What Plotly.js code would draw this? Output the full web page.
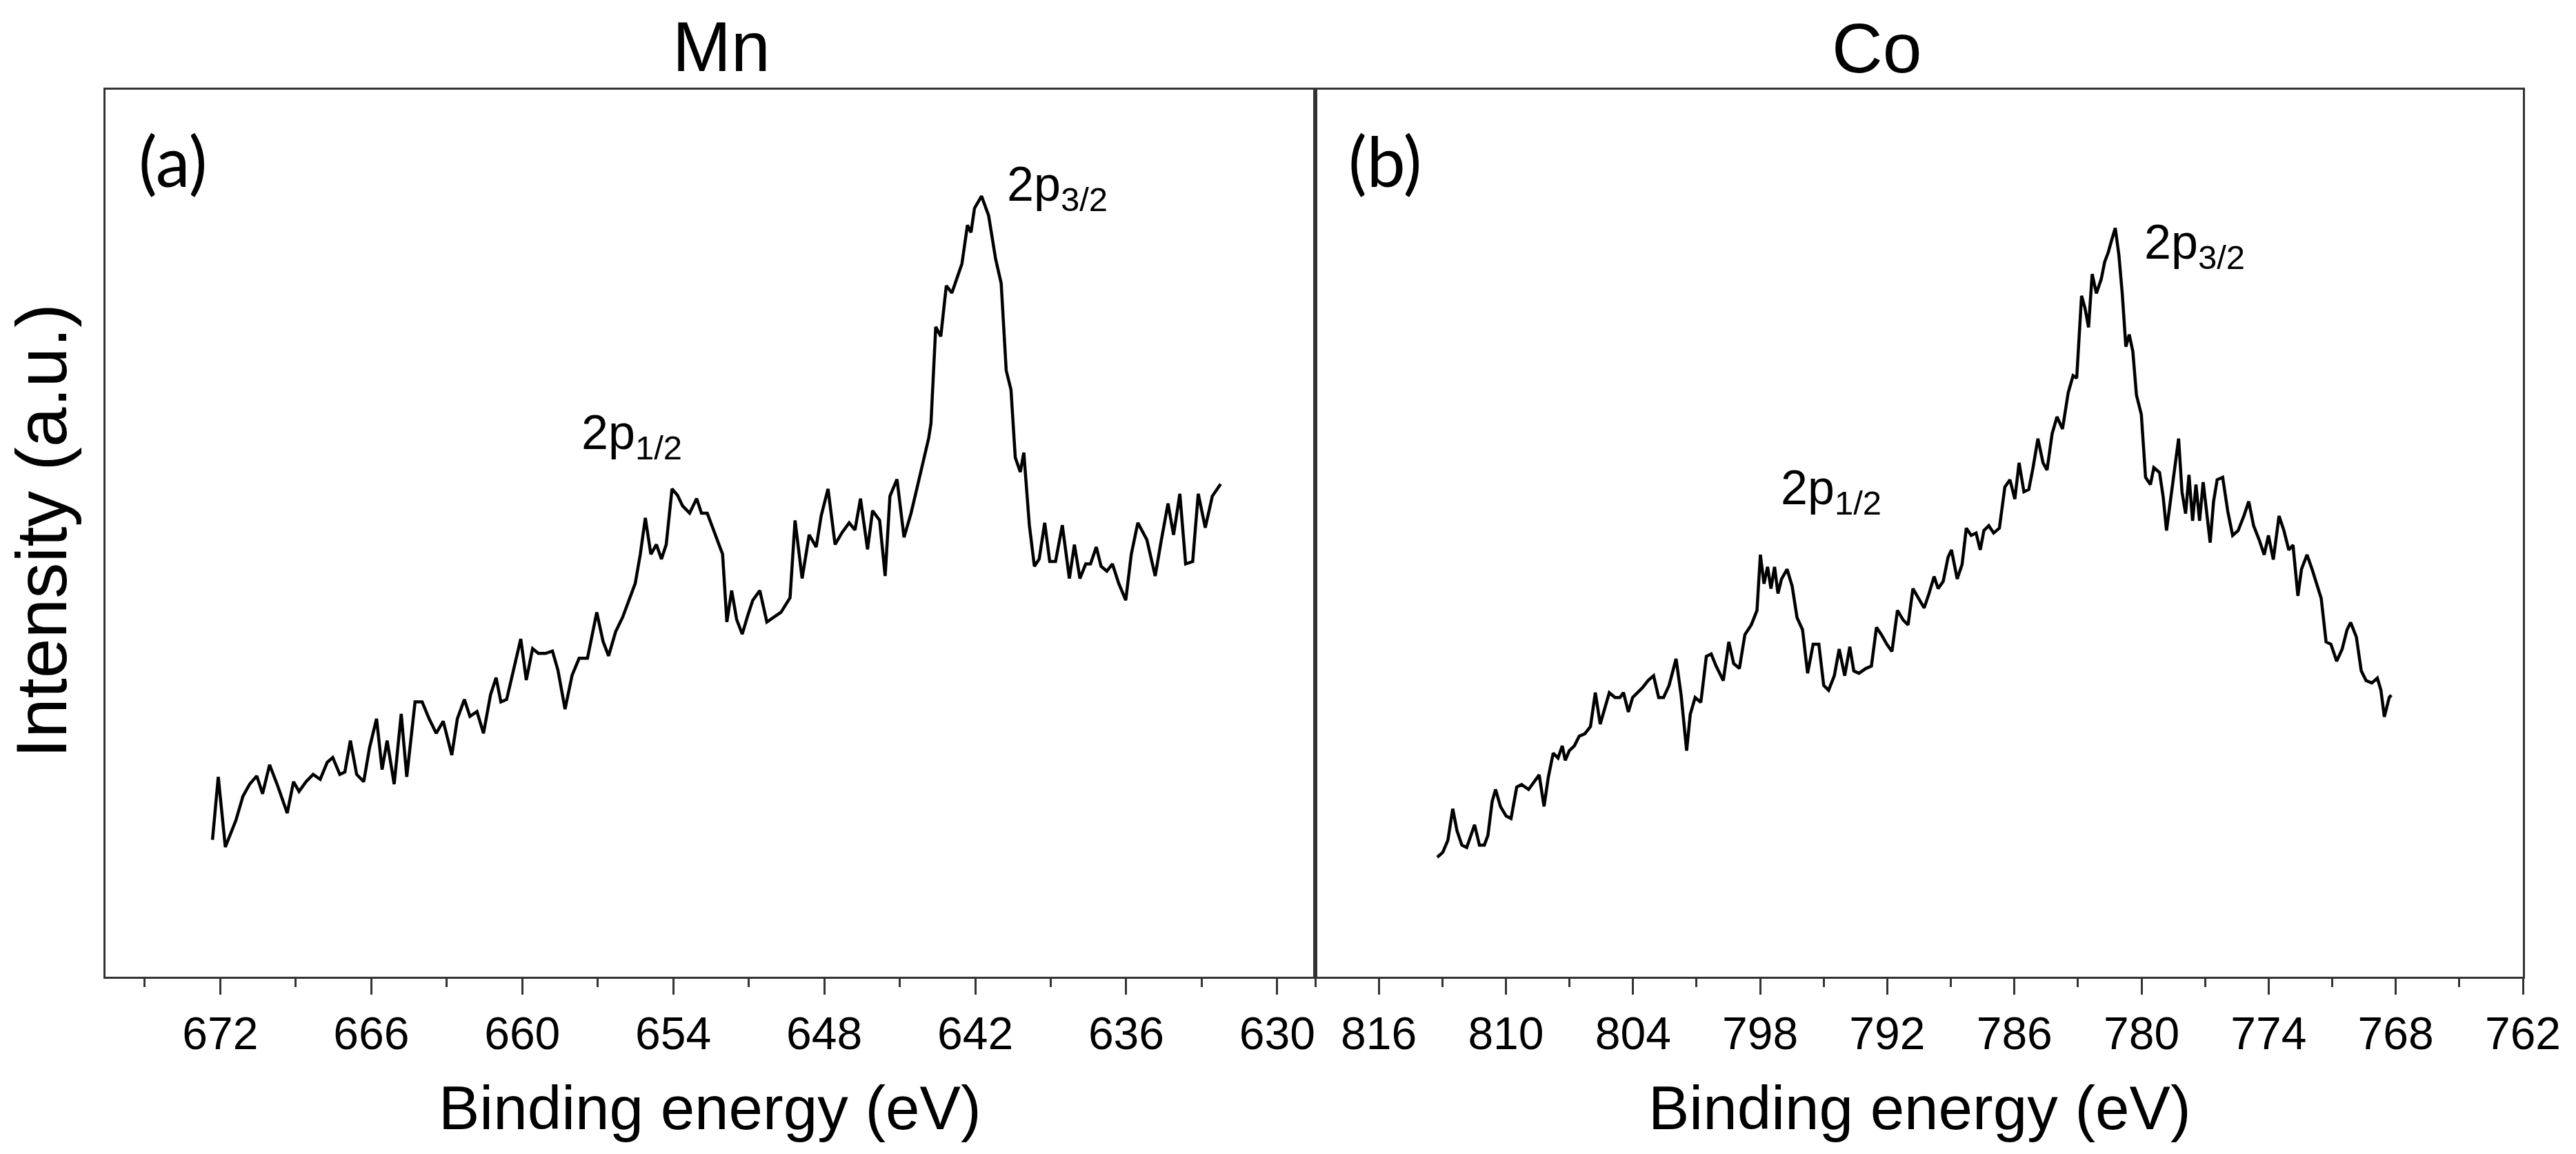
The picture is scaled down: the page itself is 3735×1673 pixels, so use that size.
<!DOCTYPE html>
<html>
<head>
<meta charset="utf-8">
<script src="https://cdn.plot.ly/plotly-3.0.1.min.js"></script>
<style>html,body{margin:0;padding:0;background:#fff;}#chart{width:3735px;height:1673px;}</style>
</head>
<body>
<div id="chart"></div>
<script>
// Mn 2p spectrum (binding energy in eV, intensity in a.u.)
const mnE = [672.31,672.08,671.80,671.38,671.10,670.83,670.55,670.32,670.04,669.71,
669.34,669.09,668.87,668.59,668.31,668.03,667.75,667.53,667.25,667.05,
666.83,666.58,666.30,666.07,665.79,665.57,665.37,665.09,664.81,664.59,
664.26,663.98,663.70,663.42,663.14,662.80,662.58,662.30,662.08,661.80,
661.54,661.26,661.04,660.85,660.62,660.34,660.06,659.84,659.59,659.36,
659.08,658.80,658.58,658.30,658.02,657.74,657.41,657.04,656.79,656.57,
656.29,656.01,655.51,655.31,655.11,654.89,654.67,654.47,654.28,654.05,
653.83,653.63,653.35,653.07,652.88,652.65,652.43,652.23,652.04,651.87,
651.68,651.48,651.26,651.03,650.84,650.56,650.28,650.00,649.72,649.36,
649.16,648.88,648.60,648.32,648.12,647.85,647.57,647.29,647.01,646.78,
646.56,646.28,646.08,645.80,645.58,645.39,645.11,644.83,644.55,644.21,
643.85,643.76,643.57,643.37,643.15,642.93,642.73,642.53,642.31,642.17,
642.03,641.75,641.47,641.19,640.97,640.77,640.58,640.41,640.21,640.07,
639.85,639.65,639.46,639.24,639.04,638.81,638.54,638.26,638.06,637.84,
637.61,637.42,637.19,637.00,636.77,636.55,636.30,636.02,635.80,635.54,
635.18,634.85,634.62,634.34,634.12,633.87,633.64,633.36,633.14,632.86,
632.58,632.25];
const mnI = [283,413,268,323,373,398,415,378,438,393,
338,403,383,403,418,408,443,453,418,423,
488,418,403,473,533,428,488,398,543,413,
568,568,533,503,528,458,533,573,538,548,
503,583,618,568,573,638,698,613,678,668,
668,673,633,553,623,658,658,753,693,663,
713,743,813,873,948,873,893,863,893,1008,
995,973,958,988,958,958,928,903,873,733,
798,738,708,748,778,798,733,743,753,783,
943,823,913,888,953,1008,893,918,938,923,
988,883,963,943,828,993,1028,908,958,1033,
1113,1143,1343,1323,1428,1413,1443,1473,1553,1538,
1588,1613,1573,1483,1433,1253,1213,1073,1043,1083,
933,848,863,938,858,858,933,823,893,823,
853,853,888,848,838,853,813,778,873,938,
903,828,898,978,913,998,853,858,998,928,
993,1018];

// Co 2p spectrum
const coE = [813.24,812.98,812.74,812.51,812.31,812.08,811.85,811.65,811.48,811.25,
811.02,810.85,810.65,810.49,810.26,809.99,809.76,809.49,809.26,808.93,
808.66,808.43,808.20,808.00,807.77,807.54,807.34,807.20,807.01,806.77,
806.54,806.28,806.01,805.78,805.55,805.35,805.12,804.85,804.62,804.45,
804.22,804.02,803.79,803.56,803.29,803.03,802.79,802.56,802.30,801.97,
801.73,801.47,801.30,801.07,800.80,800.54,800.31,800.08,799.74,799.48,
799.25,798.98,798.72,798.42,798.15,797.99,797.82,797.65,797.49,797.32,
797.16,796.99,796.73,796.49,796.26,796.00,795.76,795.50,795.23,795.00,
794.77,794.50,794.27,794.01,793.77,793.58,793.34,793.01,792.75,792.51,
792.28,792.02,791.78,791.52,791.25,791.02,790.79,790.52,790.26,790.03,
789.79,789.60,789.36,789.13,788.97,788.70,788.47,788.27,788.04,787.81,
787.61,787.44,787.21,786.98,786.71,786.45,786.21,785.98,785.78,785.55,
785.32,785.12,784.89,784.65,784.46,784.22,783.99,783.73,783.46,783.23,
783.06,782.83,782.67,782.50,782.33,782.13,781.90,781.74,781.57,781.41,
781.24,781.07,780.91,780.74,780.58,780.41,780.24,780.01,779.81,779.58,
779.42,779.15,778.98,778.82,778.59,778.42,778.25,778.09,777.92,777.76,
777.59,777.43,777.26,777.09,776.93,776.76,776.60,776.43,776.17,775.93,
775.70,775.44,775.17,774.94,774.71,774.44,774.21,774.01,773.78,773.51,
773.28,773.05,772.85,772.62,772.45,772.19,771.95,771.72,771.52,771.29,
771.06,770.79,770.53,770.30,770.13,769.86,769.63,769.40,769.13,768.87,
768.70,768.54,768.31,768.21];
const coI = [247,257,282,347,302,272,267,292,314,272,
272,292,362,387,352,332,327,392,397,387,
402,417,352,412,462,452,477,447,467,477,
497,502,517,587,522,552,587,577,577,587,
547,577,587,597,612,622,577,577,602,657,
582,467,542,577,567,662,667,642,612,692,
647,637,707,727,757,872,812,847,802,847,
792,822,842,807,742,717,627,687,687,602,
592,622,677,622,682,632,627,637,642,722,
707,687,672,757,737,727,802,782,762,792,
827,802,817,867,882,822,852,927,912,917,
882,922,932,917,927,1012,1027,987,1062,1002,
1007,1052,1112,1062,1047,1122,1157,1132,1207,1242,
1237,1407,1382,1342,1452,1412,1442,1477,1497,1522,
1547,1492,1412,1302,1327,1292,1202,1162,1032,1017,
1052,1042,992,922,1002,1052,1112,1002,957,1037,
942,1017,942,1022,962,897,982,1027,1032,962,
912,922,952,982,932,902,872,912,862,952,
922,882,892,787,842,872,842,812,782,692,
687,652,677,717,732,702,632,612,607,617,
592,537,577,582];

// Tick values
const mnTicks = [672,666,660,654,648,642,636,630];
const mnMinor = [675,669,663,657,651,645,639,633];
const coTicks = [816,810,804,798,792,786,780,774,768,762];
const coMinor = [819,813,807,801,795,789,783,777,771,765];

const panelTitles = ['Mn','Co'];
const panelLabels = ['(a)','(b)'];
const xTitle = 'Binding energy (eV)';
const yTitle = 'Intensity (a.u.)';

const AR = 'Liberation Sans, Arial, sans-serif';
const lineCol = '#333333';

const traces = [
  {x: mnE, y: mnI, xaxis: 'x', yaxis: 'y', type: 'scatter', mode: 'lines',
   line: {color: '#000', width: 4.5}, hoverinfo: 'skip'},
  {x: coE, y: coI, xaxis: 'x2', yaxis: 'y2', type: 'scatter', mode: 'lines',
   line: {color: '#000', width: 4.5}, hoverinfo: 'skip'}
];

function xAxis(domain, range, ticks, minor) {
  return {
    domain: domain, range: range, showgrid: false, zeroline: false,
    showline: true, mirror: true, linecolor: lineCol, linewidth: 3,
    ticks: 'outside', ticklen: 23, tickwidth: 3, tickcolor: lineCol,
    tickmode: 'array', tickvals: ticks, ticktext: ticks.map(String),
    tickfont: {family: AR, size: 66, color: '#000'},
    ticklabelstandoff: 0,
    minor: {tickmode: 'array', tickvals: minor, ticks: 'outside', ticklen: 12, tickwidth: 3, tickcolor: lineCol, showgrid: false}
  };
}
function yAxis(domain, anchor) {
  return {
    domain: domain, anchor: anchor, range: [0, 1833], showgrid: false, zeroline: false,
    showline: true, mirror: true, linecolor: lineCol, linewidth: 3,
    ticks: '', showticklabels: false
  };
}

const W = 3735, H = 1673;
const px = v => v / W;
const py = v => 1 - v / H;
const yDom = [py(1416), py(130)];

const ann = [];
// panel titles
ann.push({text: panelTitles[0], x: px(1046), y: py(68), xref: 'paper', yref: 'paper', xanchor: 'center', yanchor: 'middle', showarrow: false, font: {family: AR, size: 102, color: '#000'}});
ann.push({text: panelTitles[1], x: px(2721), y: py(70), xref: 'paper', yref: 'paper', xanchor: 'center', yanchor: 'middle', showarrow: false, font: {family: AR, size: 102, color: '#000'}});
// x titles
ann.push({text: xTitle, x: px(1029), y: py(1606), xref: 'paper', yref: 'paper', xanchor: 'center', yanchor: 'middle', showarrow: false, font: {family: AR, size: 89, color: '#000'}});
ann.push({text: xTitle, x: px(2783), y: py(1606), xref: 'paper', yref: 'paper', xanchor: 'center', yanchor: 'middle', showarrow: false, font: {family: AR, size: 89, color: '#000'}});
// y title
ann.push({text: yTitle, x: px(60), y: py(770), xref: 'paper', yref: 'paper', xanchor: 'center', yanchor: 'middle', textangle: -90, showarrow: false, font: {family: AR, size: 104, color: '#000'}});
// panel letters
ann.push({text: panelLabels[0], x: px(250), y: py(232), xref: 'paper', yref: 'paper', xanchor: 'center', yanchor: 'middle', showarrow: false, font: {family: 'Lato, Open Sans, sans-serif', size: 100, color: '#000'}});
ann.push({text: panelLabels[1], x: px(2009), y: py(232), xref: 'paper', yref: 'paper', xanchor: 'center', yanchor: 'middle', showarrow: false, font: {family: 'Lato, Open Sans, sans-serif', size: 100, color: '#000'}});
// peak labels
const peakFont = {family: AR, size: 70, color: '#000'};
ann.push({text: '2p<sub>3/2</sub>', x: px(1533), y: py(272), xref: 'paper', yref: 'paper', xanchor: 'center', yanchor: 'middle', showarrow: false, font: peakFont});
ann.push({text: '2p<sub>1/2</sub>', x: px(916), y: py(632), xref: 'paper', yref: 'paper', xanchor: 'center', yanchor: 'middle', showarrow: false, font: peakFont});
ann.push({text: '2p<sub>3/2</sub>', x: px(3182), y: py(356), xref: 'paper', yref: 'paper', xanchor: 'center', yanchor: 'middle', showarrow: false, font: peakFont});
ann.push({text: '2p<sub>1/2</sub>', x: px(2655), y: py(712), xref: 'paper', yref: 'paper', xanchor: 'center', yanchor: 'middle', showarrow: false, font: peakFont});

const layout = {
  width: W, height: H,
  margin: {l: 0, r: 0, t: 0, b: 0, pad: 0},
  paper_bgcolor: '#fff', plot_bgcolor: '#fff',
  showlegend: false,
  xaxis: xAxis([px(153), px(1907)], [676.56, 628.49], mnTicks, mnMinor),
  yaxis: yAxis(yDom, 'x'),
  xaxis2: Object.assign(xAxis([px(1907), px(3658)], [819.0, 762.0], coTicks, coMinor), {anchor: 'y2'}),
  yaxis2: yAxis(yDom, 'x2'),
  annotations: ann
};
layout.xaxis.anchor = 'y';

Plotly.newPlot('chart', traces, layout, {displayModeBar: false, staticPlot: true});
</script>
</body>
</html>
